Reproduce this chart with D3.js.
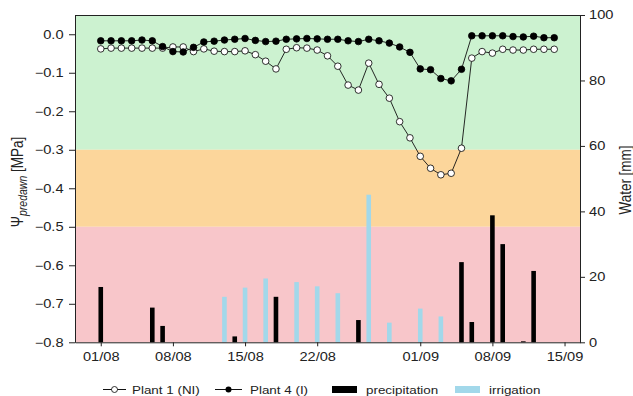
<!DOCTYPE html>
<html>
<head>
<meta charset="utf-8">
<script src="https://cdn.jsdelivr.net/npm/d3@7"></script>
<style>
  body { margin: 0; background: #fff; }
  text { font-family: "Liberation Sans", Arial, Helvetica, sans-serif; }
</style>
</head>
<body>
<svg id="chart" width="633" height="396"></svg>
<script>
// ---- data ----
var firstDay = "2021-08-01", lastDay = "2021-09-15"; // daily readings, 01/08 .. 14/09

// predawn water potential [MPa], one value per day
var plant1 = [-0.038,-0.036,-0.036,-0.036,-0.036,-0.036,-0.036,-0.033,-0.033,-0.045,
              -0.038,-0.044,-0.045,-0.045,-0.043,-0.053,-0.070,-0.090,-0.039,-0.035,
              -0.036,-0.041,-0.056,-0.083,-0.132,-0.145,-0.075,-0.130,-0.166,-0.227,
              -0.269,-0.317,-0.348,-0.365,-0.361,-0.296,-0.062,-0.045,-0.049,-0.039,
              -0.041,-0.041,-0.039,-0.039,-0.039];
var plant4 = [-0.017,-0.017,-0.017,-0.017,-0.015,-0.017,-0.032,-0.045,-0.046,-0.034,
              -0.020,-0.018,-0.015,-0.013,-0.011,-0.016,-0.019,-0.018,-0.013,-0.012,
              -0.011,-0.012,-0.013,-0.013,-0.017,-0.019,-0.013,-0.017,-0.023,-0.033,
              -0.047,-0.090,-0.092,-0.115,-0.121,-0.091,-0.004,-0.004,-0.004,-0.004,
              -0.006,-0.007,-0.005,-0.009,-0.009];

// water [mm]
var precipDates = ["2021-08-01","2021-08-06","2021-08-07","2021-08-14","2021-08-18","2021-08-26",
                   "2021-09-05","2021-09-06","2021-09-08","2021-09-09","2021-09-11","2021-09-12"];
var precipMm    = [16.9, 10.6, 5.0, 1.8, 13.9, 6.8, 24.5, 6.2, 38.8, 30.0, 0.3, 21.8];
var irrigDates  = ["2021-08-13","2021-08-15","2021-08-17","2021-08-20","2021-08-22","2021-08-24",
                   "2021-08-27","2021-08-29","2021-09-01","2021-09-03"];
var irrigMm     = [13.9, 16.7, 19.5, 18.4, 17.1, 15.0, 45.1, 6.0, 10.3, 7.9];

var psiTicks   = [0, -0.1, -0.2, -0.3, -0.4, -0.5, -0.6, -0.7, -0.8];
var waterTicks = [0, 20, 40, 60, 80, 100];
var dateTicks  = ["2021-08-01","2021-08-08","2021-08-15","2021-08-22","2021-09-01","2021-09-08","2021-09-15"];
var zones = [ {from: 0.05, to: -0.3}, {from: -0.3, to: -0.5}, {from: -0.5, to: -0.8} ];
var zoneColors = ["#ccf2d0", "#fcd69b", "#f8c6ca"];

// ---- layout ----
var L = 75, R = 580, T = 15, B = 342.3;
var sx = 1.22; // the figure is stretched horizontally, text too
var parse = d3.utcParse("%Y-%m-%d");
var days = d3.utcDay.range(parse(firstDay), parse(lastDay));

var svg = d3.select("#chart");

var x = d3.scaleUtc()
  .domain([new Date(Date.UTC(2021, 6, 29, 12)), new Date(Date.UTC(2021, 8, 16, 12))])
  .range([L, R]);
var yL = d3.scaleLinear().domain([-0.8, 0.05]).range([B, T]);
var yR = d3.scaleLinear().domain([0, 100]).range([B, T]);

// coloured stress zones
svg.append("g").selectAll("rect").data(zones).join("rect")
  .attr("x", L).attr("width", R - L)
  .attr("y", function (d) { return yL(d.from); })
  .attr("height", function (d) { return yL(d.to) - yL(d.from); })
  .attr("fill", function (d, i) { return zoneColors[i]; });

// bars
var bw = 4.6;
svg.append("g").selectAll("rect").data(irrigDates).join("rect")
  .attr("x", function (d) { return x(parse(d)) - bw / 2; })
  .attr("width", bw)
  .attr("y", function (d, i) { return yR(irrigMm[i]); })
  .attr("height", function (d, i) { return yR(0) - yR(irrigMm[i]); })
  .attr("fill", "#a2d8ea");
svg.append("g").selectAll("rect").data(precipDates).join("rect")
  .attr("x", function (d) { return x(parse(d)) - bw / 2; })
  .attr("width", bw)
  .attr("y", function (d, i) { return yR(precipMm[i]); })
  .attr("height", function (d, i) { return yR(0) - yR(precipMm[i]); })
  .attr("fill", "#000");

// water potential lines
var line = d3.line()
  .x(function (d, i) { return x(days[i]); })
  .y(function (d) { return yL(d); });

function drawSeries(vals, fill) {
  svg.append("path").datum(vals).attr("d", line)
    .attr("fill", "none").attr("stroke", "#111").attr("stroke-width", 0.9);
  svg.append("g").selectAll("circle").data(vals).join("circle")
    .attr("cx", function (d, i) { return x(days[i]); })
    .attr("cy", function (d) { return yL(d); })
    .attr("r", 3.3)
    .attr("fill", fill).attr("stroke", "#000").attr("stroke-width", 0.8);
}
drawSeries(plant1, "#fff");
drawSeries(plant4, "#000");

// axes
var fmt = d3.format(".1f");
var gL = svg.append("g").attr("transform", "translate(" + L + ",0)")
  .call(d3.axisLeft(yL).tickValues(psiTicks).tickFormat(fmt).tickSize(6).tickSizeOuter(0));
gL.selectAll("text").attr("x", -11.5 / sx).attr("transform", "scale(" + sx + ",1)");

var gR = svg.append("g").attr("transform", "translate(" + R + ",0)")
  .call(d3.axisRight(yR).tickValues(waterTicks).tickSize(5).tickSizeOuter(0));
gR.selectAll("text").attr("x", 9 / sx).attr("transform", "scale(" + sx + ",1)");

var gB = svg.append("g").attr("transform", "translate(0," + B + ")")
  .call(d3.axisBottom(x).tickValues(dateTicks.map(parse)).tickFormat(d3.utcFormat("%d/%m"))
    .tickSize(4).tickPadding(6).tickSizeOuter(0));
gB.selectAll("text").attr("transform", "scale(" + sx + ",1)");

[gL, gR, gB].forEach(function (g) {
  g.selectAll("text").style("font-size", "12px").attr("fill", "#222");
  g.selectAll("line").attr("stroke", "#222");
  g.select(".domain").attr("stroke", "#222");
});

// top frame
svg.append("line").attr("x1", L).attr("x2", R).attr("y1", T + 0.5).attr("y2", T + 0.5)
  .attr("stroke", "#222");

// axis titles
var yt = svg.append("text")
  .attr("transform", "translate(23,182) scale(" + sx + ",1) rotate(-90)")
  .attr("text-anchor", "middle").attr("fill", "#222").style("font-size", "13.5px");
yt.append("tspan").text("Ψ");
yt.append("tspan").attr("dy", 3).style("font-size", "10.5px").style("font-style", "italic").text("predawn");
yt.append("tspan").attr("dy", -3).text(" [MPa]");

svg.append("text")
  .attr("transform", "translate(631,180) scale(" + sx + ",1) rotate(-90)")
  .attr("text-anchor", "middle").attr("fill", "#222").style("font-size", "13.5px")
  .text("Water [mm]");

// legend
var ly = 389.5;
var leg = svg.append("g");
function legText(tx, label) {
  leg.append("text").attr("transform", "translate(" + tx + "," + (ly + 4) + ") scale(" + sx + ",1)")
    .attr("fill", "#222").style("font-size", "11px").text(label);
}
leg.append("line").attr("x1", 103).attr("x2", 126).attr("y1", ly).attr("y2", ly).attr("stroke", "#111");
leg.append("circle").attr("cx", 114.5).attr("cy", ly).attr("r", 3).attr("fill", "#fff").attr("stroke", "#000").attr("stroke-width", 0.8);
legText(132, "Plant 1 (NI)");
leg.append("line").attr("x1", 215).attr("x2", 242).attr("y1", ly).attr("y2", ly).attr("stroke", "#111");
leg.append("circle").attr("cx", 228.5).attr("cy", ly).attr("r", 3).attr("fill", "#000");
legText(250, "Plant 4 (I)");
leg.append("rect").attr("x", 332).attr("y", ly - 3.5).attr("width", 25).attr("height", 7).attr("fill", "#000");
legText(366, "precipitation");
leg.append("rect").attr("x", 455).attr("y", ly - 3.5).attr("width", 25).attr("height", 7).attr("fill", "#a2d8ea");
legText(489, "irrigation");
</script>
</body>
</html>
